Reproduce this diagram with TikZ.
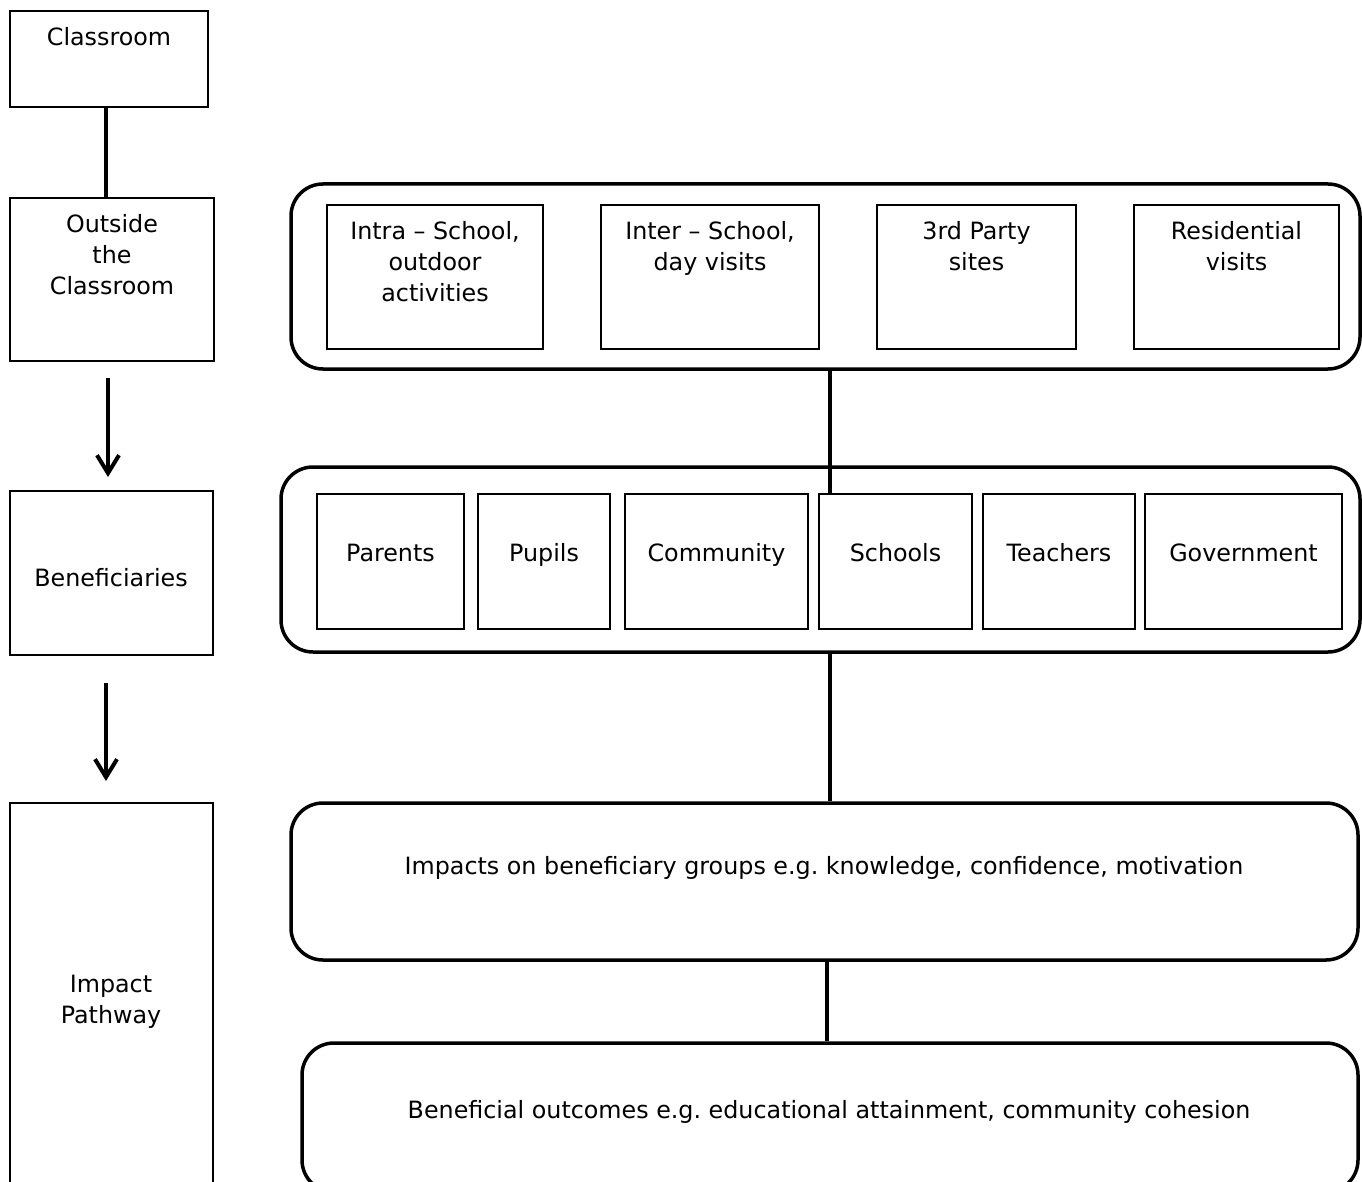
\documentclass[tikz,border=0pt]{standalone}
\usepackage{fontspec}
\setmainfont{DejaVu Sans}
\frenchspacing
\usetikzlibrary{arrows.meta, positioning}

\begin{document}
\begin{tikzpicture}[x=1pt, y=-1pt, font=\fontsize{23.8}{31}\selectfont,
  thinbox/.style={draw, line width=1.2pt, inner sep=0pt},
  grpbox/.style={draw, line width=3.5pt, rounded corners=32pt, inner sep=0pt},
  link/.style={line width=3.5pt},
  flow/.style={line width=3.5pt, -{Straight Barb[length=18pt, width=22pt, line width=4pt]}},
  txt/.style={align=center, inner sep=0pt}]
\useasboundingbox (0,0) rectangle (1362,1182);

% left column
\node[thinbox, minimum width=198pt, minimum height=96pt] (classroom) at (109,59) {};
\node[txt, anchor=north] (classroomtxt) at (109,27) {Classroom};
\node[thinbox, minimum width=204pt, minimum height=163pt] (outside) at (112,279.5) {};
\node[txt, anchor=north] (outsidetxt) at (112,214) {Outside\\the\\Classroom};
\node[thinbox, minimum width=203pt, minimum height=164pt] (benef) at (111.5,573) {};
\node[txt, anchor=base] (beneftxt) at (111,586) {Beneficiaries};
\node[thinbox, minimum width=203pt, minimum height=397pt] (pathway) at (111.5,1001.5) {};
\node[txt, anchor=north] (pathwaytxt) at (111,975) {Impact\\Pathway};

\coordinate (arrowa) at (108,378);
\coordinate (arrowb) at (108,477);
\coordinate (arrowc) at (106,683);
\coordinate (arrowd) at (106,781);
\draw[link] (classroom.south -| 106,0) -- (outside.north -| 106,0);
\draw[flow] (arrowa) -- (arrowb);
\draw[flow] (arrowc) -- (arrowd);

% settings
\node[grpbox, minimum width=1069pt, minimum height=185pt] (settings) at (825.5,276.5) {};
\foreach \x/\w/\name/\lab in {435/216/intra/{Intra -- School,\\outdoor\\activities},
    710/218/inter/{Inter -- School,\\day visits},
    976.5/199/party/{3rd Party\\sites},
    1236.5/205/resid/{Residential\\visits}} {
  \node[thinbox, minimum width=\w pt, minimum height=144pt] (\name) at (\x,277) {};
  \node[txt, anchor=north] (\name txt) at (\x,221) {\lab};
}

% beneficiaries
\node[grpbox, minimum width=1079pt, minimum height=185pt] (groups) at (820.5,559.5) {};
\foreach \x/\w/\name/\lab in {390.5/147/parents/Parents, 544/132/pupils/Pupils,
    716.5/183/community/Community, 895.5/153/schools/Schools,
    1059/152/teachers/Teachers, 1243.5/197/government/Government} {
  \node[thinbox, minimum width=\w pt, minimum height=135pt] (\name) at (\x,561.5) {};
  \node[txt, anchor=base] (\name txt) at (\x,561.5) {\lab};
}

% impacts and outcomes
\node[grpbox, minimum width=1067pt, minimum height=157pt] (impacts) at (824.5,881.5) {};
\node[txt, anchor=base] (impactstxt) at (824,874) {Impacts on beneficiary groups e.g. knowledge, confidence, motivation};
\node[grpbox, minimum width=1056pt, minimum height=149pt] (outcomes) at (830,1117.5) {};
\node[txt, anchor=base] (outcomestxt) at (829,1118) {Beneficial outcomes e.g. educational attainment, community cohesion};

\coordinate (spine) at (830,0);
\coordinate (spinelow) at (827,0);
\draw[link] (settings.south -| spine) -- (schools.north -| spine);
\draw[link] (groups.south -| spine) -- (impacts.north -| spine);
\draw[link] (impacts.south -| spinelow) -- (outcomes.north -| spinelow);
\end{tikzpicture}
\end{document}
